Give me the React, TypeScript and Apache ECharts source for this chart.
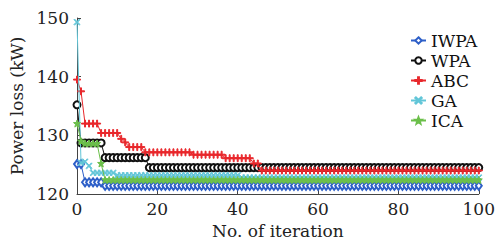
import React, { useEffect, useRef } from "react";
import * as echarts from "echarts";

// Power loss (kW) per iteration 0..100
const IWPA = [
  125.1, 125.1, 122.0, 122.0, 122.0, 122.0, 122.0, 121.4, 121.4, 121.4, // 0-9
  121.4, 121.4, 121.4, 121.4, 121.4, 121.4, 121.4, 121.4, 121.4, 121.4, // 10-19
  121.4, 121.4, 121.4, 121.4, 121.4, 121.4, 121.4, 121.4, 121.4, 121.4, // 20-29
  121.4, 121.4, 121.4, 121.4, 121.4, 121.4, 121.4, 121.4, 121.4, 121.4, // 30-39
  121.4, 121.4, 121.4, 121.4, 121.4, 121.4, 121.4, 121.4, 121.4, 121.4, // 40-49
  121.4, 121.4, 121.4, 121.4, 121.4, 121.4, 121.4, 121.4, 121.4, 121.4, // 50-59
  121.4, 121.4, 121.4, 121.4, 121.4, 121.4, 121.4, 121.4, 121.4, 121.4, // 60-69
  121.4, 121.4, 121.4, 121.4, 121.4, 121.4, 121.4, 121.4, 121.4, 121.4, // 70-79
  121.4, 121.4, 121.4, 121.4, 121.4, 121.4, 121.4, 121.4, 121.4, 121.4, // 80-89
  121.4, 121.4, 121.4, 121.4, 121.4, 121.4, 121.4, 121.4, 121.4, 121.4, // 90-99
  121.4, // 100
];

const WPA = [
  135.2, 128.7, 128.7, 128.7, 128.7, 128.7, 128.7, 126.2, 126.2, 126.2, // 0-9
  126.2, 126.2, 126.2, 126.2, 126.2, 126.2, 126.2, 126.2, 124.5, 124.5, // 10-19
  124.5, 124.5, 124.5, 124.5, 124.5, 124.5, 124.5, 124.5, 124.5, 124.5, // 20-29
  124.5, 124.5, 124.5, 124.5, 124.5, 124.5, 124.5, 124.5, 124.5, 124.5, // 30-39
  124.5, 124.5, 124.5, 124.5, 124.5, 124.5, 124.5, 124.5, 124.5, 124.5, // 40-49
  124.5, 124.5, 124.5, 124.5, 124.5, 124.5, 124.5, 124.5, 124.5, 124.5, // 50-59
  124.5, 124.5, 124.5, 124.5, 124.5, 124.5, 124.5, 124.5, 124.5, 124.5, // 60-69
  124.5, 124.5, 124.5, 124.5, 124.5, 124.5, 124.5, 124.5, 124.5, 124.5, // 70-79
  124.5, 124.5, 124.5, 124.5, 124.5, 124.5, 124.5, 124.5, 124.5, 124.5, // 80-89
  124.5, 124.5, 124.5, 124.5, 124.5, 124.5, 124.5, 124.5, 124.5, 124.5, // 90-99
  124.5, // 100
];

const ABC = [
  139.5, 137.5, 132.0, 132.0, 132.0, 132.0, 130.4, 130.4, 130.4, 130.4, // 0-9
  130.4, 129.4, 128.8, 128.0, 128.0, 128.0, 128.0, 127.1, 127.1, 127.1, // 10-19
  127.1, 127.1, 127.1, 127.1, 127.1, 127.1, 127.1, 127.1, 127.1, 126.7, // 20-29
  126.7, 126.7, 126.7, 126.7, 126.7, 126.7, 126.7, 126.1, 126.1, 126.1, // 30-39
  126.1, 126.1, 126.1, 126.1, 125.2, 125.2, 124.0, 124.0, 124.0, 124.0, // 40-49
  124.0, 124.0, 124.0, 124.0, 124.0, 124.0, 124.0, 124.0, 124.0, 124.0, // 50-59
  124.0, 124.0, 124.0, 124.0, 124.0, 124.0, 124.0, 124.0, 124.0, 124.0, // 60-69
  124.0, 124.0, 124.0, 124.0, 124.0, 124.0, 124.0, 124.0, 124.0, 124.0, // 70-79
  124.0, 124.0, 124.0, 124.0, 124.0, 124.0, 124.0, 124.0, 124.0, 124.0, // 80-89
  124.0, 124.0, 124.0, 124.0, 124.0, 124.0, 124.0, 124.0, 124.0, 124.0, // 90-99
  124.0, // 100
];

const GA = [
  149.3, 125.3, 125.5, 124.8, 123.6, 123.6, 123.6, 123.6, 123.6, 123.6, // 0-9
  123.2, 123.2, 123.2, 123.2, 123.2, 123.2, 123.2, 123.2, 123.2, 123.2, // 10-19
  123.2, 123.2, 123.2, 123.2, 123.2, 123.2, 123.2, 123.2, 123.2, 123.2, // 20-29
  123.2, 123.2, 123.2, 123.2, 123.2, 123.2, 123.2, 123.2, 123.2, 123.2, // 30-39
  123.2, 122.8, 122.8, 122.8, 122.8, 122.8, 122.8, 122.8, 122.8, 122.8, // 40-49
  122.8, 122.8, 122.8, 122.8, 122.8, 122.8, 122.8, 122.8, 122.8, 122.8, // 50-59
  122.8, 122.8, 122.8, 122.8, 122.8, 122.8, 122.8, 122.8, 122.8, 122.8, // 60-69
  122.8, 122.8, 122.8, 122.8, 122.8, 122.8, 122.8, 122.8, 122.8, 122.8, // 70-79
  122.8, 122.8, 122.8, 122.8, 122.8, 122.8, 122.8, 122.8, 122.8, 122.8, // 80-89
  122.8, 122.8, 122.8, 122.8, 122.8, 122.8, 122.8, 122.8, 122.8, 122.8, // 90-99
  122.8, // 100
];

const ICA = [
  132.0, 129.0, 128.6, 128.6, 128.6, 128.6, 125.2, 122.4, 122.4, 122.4, // 0-9
  122.4, 122.4, 122.4, 122.4, 122.4, 122.4, 122.4, 122.4, 122.4, 122.4, // 10-19
  122.4, 122.4, 122.4, 122.4, 122.4, 122.4, 122.4, 122.4, 122.4, 122.4, // 20-29
  122.4, 122.4, 122.4, 122.4, 122.4, 122.4, 122.4, 122.4, 122.4, 122.4, // 30-39
  122.4, 122.4, 122.4, 122.4, 122.4, 122.4, 122.4, 122.4, 122.4, 122.4, // 40-49
  122.4, 122.4, 122.4, 122.4, 122.4, 122.4, 122.4, 122.4, 122.4, 122.4, // 50-59
  122.4, 122.4, 122.4, 122.4, 122.4, 122.4, 122.4, 122.4, 122.4, 122.4, // 60-69
  122.4, 122.4, 122.4, 122.4, 122.4, 122.4, 122.4, 122.4, 122.4, 122.4, // 70-79
  122.4, 122.4, 122.4, 122.4, 122.4, 122.4, 122.4, 122.4, 122.4, 122.4, // 80-89
  122.4, 122.4, 122.4, 122.4, 122.4, 122.4, 122.4, 122.4, 122.4, 122.4, // 90-99
  122.4, // 100
];

const SERIES_NAMES = ["IWPA", "WPA", "ABC", "GA", "ICA"];
const X_TICKS = [0, 20, 40, 60, 80, 100];
const Y_TICKS = [120, 130, 140, 150];

const FONT = "DejaVu Serif";

const PLUS = "path://M4.3,0H5.7V10H4.3Z M0,4.3H10V5.7H0Z";
const CROSS = "path://M0,1L1,0L10,9L9,10Z M9,0L10,1L1,10L0,9Z";
const STAR = "path://M5,0L6.3,3.4L10,3.6L7.1,6L8.1,10L5,7.8L1.9,10L2.9,6L0,3.6L3.7,3.4Z";

export default function App() {
  const ref = useRef<HTMLDivElement>(null);

  useEffect(() => {
    if (!ref.current) return;
    const chart = echarts.init(ref.current, undefined, { renderer: "svg" });
    const toPairs = (arr: number[]) => arr.map((v, i) => [i, v]);

    const styles = [
      { color: "#2d5fc8", symbol: "emptyDiamond", symbolSize: [6, 8] },
      { color: "#111111", symbol: "emptyCircle", symbolSize: 7 },
      { color: "#e8282c", symbol: PLUS, symbolSize: 7 },
      { color: "#62c6d8", symbol: CROSS, symbolSize: 6 },
      { color: "#6bbf4a", symbol: STAR, symbolSize: 7 },
    ];
    const datas = [IWPA, WPA, ABC, GA, ICA];

    chart.setOption({
      animation: false,
      backgroundColor: "#ffffff",
      textStyle: { fontFamily: FONT },
      grid: { left: 77, right: 11, top: 18, bottom: 45, containLabel: false },
      legend: {
        orient: "vertical",
        left: 405,
        top: 27,
        itemWidth: 15,
        itemHeight: 8,
        itemGap: 3,
        textStyle: { fontFamily: FONT, fontSize: 17, color: "#111", lineHeight: 17 },
        data: SERIES_NAMES,
      },
      xAxis: {
        type: "value",
        min: X_TICKS[0],
        max: X_TICKS[X_TICKS.length - 1],
        interval: 20,
        name: "No. of iteration",
        nameLocation: "middle",
        nameGap: 28,
        nameTextStyle: { fontFamily: FONT, fontSize: 17, color: "#222" },
        axisLine: { onZero: false, lineStyle: { color: "#444", width: 1 } },
        axisTick: { inside: true, length: 4, lineStyle: { color: "#444" } },
        axisLabel: { fontFamily: FONT, fontSize: 17, color: "#222", margin: 6 },
        splitLine: { show: false },
      },
      yAxis: {
        type: "value",
        min: Y_TICKS[0],
        max: Y_TICKS[Y_TICKS.length - 1],
        interval: 10,
        name: "Power loss (kW)",
        nameLocation: "middle",
        nameGap: 51,
        nameTextStyle: { fontFamily: FONT, fontSize: 17, color: "#222" },
        axisLine: { show: true, lineStyle: { color: "#444", width: 1 } },
        axisTick: { show: true, inside: true, length: 4, lineStyle: { color: "#444" } },
        axisLabel: { fontFamily: FONT, fontSize: 17, color: "#222", margin: 8 },
        splitLine: { show: false },
      },
      series: SERIES_NAMES.map((name, k) => ({
        name,
        type: "line",
        data: toPairs(datas[k]),
        symbol: styles[k].symbol,
        symbolSize: styles[k].symbolSize,
        showAllSymbol: true,
        color: styles[k].color,
        lineStyle: { color: styles[k].color, width: 1 },
        itemStyle: { color: styles[k].color, borderColor: styles[k].color, borderWidth: 1 },
        z: 2 + k,
      })),
    });

    return () => chart.dispose();
  }, []);

  return (
    <div
      ref={ref}
      style={{ position: "fixed", left: 0, top: 0, width: 498, height: 244 }}
    />
  );
}
